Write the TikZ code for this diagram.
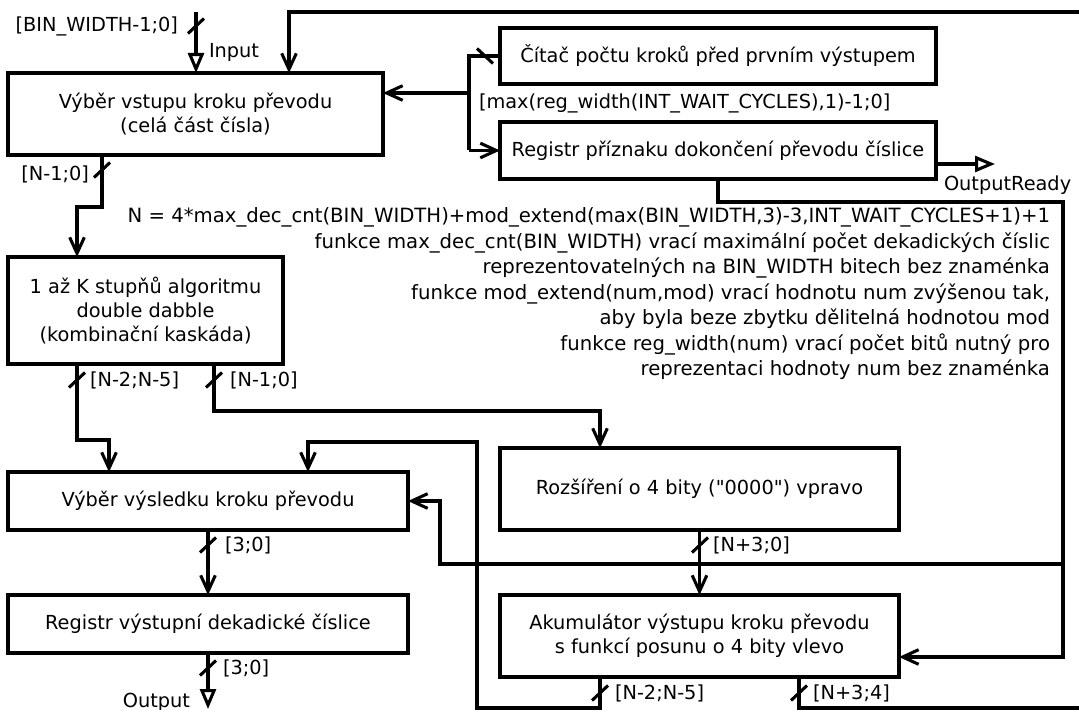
\documentclass[tikz,border=0pt]{standalone}
\usepackage{fontspec}
\setmainfont{DejaVu Sans}[Ligatures=TeXOff]
\usetikzlibrary{arrows.meta}
\begin{document}
\begin{tikzpicture}[x=0.75pt,y=-0.75pt,
  every node/.style={font=\fontsize{14.5pt}{18pt}\selectfont, inner sep=0pt, outer sep=0pt},
  block/.style 2 args={draw, line width=2.4pt, minimum width=#1*0.75pt,
    minimum height=#2*0.75pt, align=center},
  wire/.style={line width=2.3pt},
  arr/.style={wire, -{Straight Barb[length=12pt,width=11pt]}},
  port/.style={wire, -{Triangle[open,length=15pt,width=12pt,fill=white]}},
  pics/bus/.style={code={\draw[line width=2.3pt] (-8,7.5) -- (8,-7.5);}},
  pics/busb/.style={code={\draw[line width=2.3pt] (-8,-7.5) -- (8,7.5);}}
]
\useasboundingbox (0,0) rectangle (1079,710);

% functional blocks
\node[block={375}{82}] (A) at (195.5,114) {Výběr vstupu kroku převodu\\(celá část čísla)};
\node[block={436}{56}] (G) at (718,56) {Čítač počtu kroků před prvním výstupem};
\node[block={436}{57}] (H) at (718,150.5) {Registr příznaku dokončení převodu číslice};
\node[block={275}{107}] (B) at (145.5,310.5) {1 až K stupňů algoritmu\\double dabble\\(kombinační kaskáda)};
\node[block={400}{58}] (C) at (208,501) {Výběr výsledku kroku převodu};
\node[block={400}{58}] (E) at (208,624) {Registr výstupní dekadické číslice};
\node[block={399}{82}] (D) at (699.5,489) {Rozšíření o 4 bity ("0000") vpravo};
\node[block={399}{82}] (F) at (699.5,636) {Akumulátor výstupu kroku převodu\\s funkcí posunu o 4 bity vlevo};

% input port
\coordinate (inTop) at (196,12);
\draw[port] (inTop) -- (inTop |- A.north);
\pic at (196,26) {bus};
\node[anchor=east] (lin) at (178,26) {[BIN\_WIDTH-1;0]};
\node[anchor=west] (lInput) at (209,52) {Input};

% feedback of the accumulator upper part to the input selector
\coordinate (fF) at (799,708);
\coordinate (fbRB) at (1082,708);
\coordinate (fbR) at (1082,12);
\coordinate (fbA) at (289,12);
\draw[arr] (F.south -| fF) -- (fF) -- (fbRB) -- (fbR) -- (fbA) -- (fbA |- A.north);
\pic at (799,693) {bus};
\node[anchor=west] (lf2) at (813,693) {[N+3;4]};

% step counter and completion flag
\coordinate (jt) at (469,56);
\coordinate (jm) at (469,93);
\coordinate (jb) at (469,150.5);
\draw[wire] (G.west) -- (jt) -- (jb);
\draw[arr] (jb) -- (jb -| H.west);
\draw[arr] (jm) -- (jm -| A.east);
\pic at (485,56) {busb};
\node[anchor=west] (lcnt) at (479,103) {[max(reg\_width(INT\_WAIT\_CYCLES),1)-1;0]};

\coordinate (ordy) at (995,164);
\draw[port] (ordy -| H.east) -- (ordy);
\node[anchor=west] (lready) at (944,185) {OutputReady};

\coordinate (h1) at (718,202);
\coordinate (h2) at (1063,202);
\coordinate (h3) at (1063,657);
\coordinate (hj) at (1063,564);
\coordinate (c1) at (440,564);
\coordinate (c2) at (440,501);
\draw[arr] (H.south) -- (h1) -- (h2) -- (h3) -- (h3 -| F.east);
\draw[arr] (hj) -- (c1) -- (c2) -- (c2 -| C.east);

% input selector to the double dabble stages
\coordinate (a1) at (102,207);
\coordinate (a2) at (77,207);
\draw[arr] (A.south -| a1) -- (a1) -- (a2) -- (a2 |- B.north);
\pic at (102,170) {bus};
\node[anchor=east] (la) at (89,174) {[N-1;0]};

% stage outputs
\coordinate (b1) at (77,440);
\coordinate (b2) at (109,440);
\draw[arr] (B.south -| b1) -- (b1) -- (b2) -- (b2 |- C.north);
\pic at (77,380) {bus};
\node[anchor=west] (lb1) at (90,380) {[N-2;N-5]};

\coordinate (b3) at (214,411);
\coordinate (b4) at (600,411);
\draw[arr] (B.south -| b3) -- (b3) -- (b4) -- (b4 |- D.north);
\pic at (214,380) {bus};
\node[anchor=west] (lb2) at (230,380) {[N-1;0]};

% result selection and output register
\draw[arr] (C.south) -- (E.north);
\pic at (208,545) {bus};
\node[anchor=west] (lc) at (225,545) {[3;0]};

\coordinate (out) at (208,709);
\draw[port] (E.south) -- (out);
\pic at (208,668) {bus};
\node[anchor=west] (le) at (223,668) {[3;0]};
\node[anchor=east] (lout) at (190,702) {Output};

% extension and accumulator
\draw[arr] (D.south) -- (F.north);
\pic at (700,545) {bus};
\node[anchor=west] (ld) at (713,545) {[N+3;0]};

\coordinate (f1) at (600,708);
\coordinate (f2) at (477,708);
\coordinate (f3) at (477,442);
\coordinate (f4) at (308,442);
\draw[arr] (F.south -| f1) -- (f1) -- (f2) -- (f3) -- (f4) -- (f4 |- C.north);
\pic at (600,693) {bus};
\node[anchor=west] (lf1) at (615,693) {[N-2;N-5]};

% notes
\node[anchor=north east, align=right, font=\fontsize{14.75pt}{19.1pt}\selectfont] (notes) at (1050,208)
 {N = 4*max\_dec\_cnt(BIN\_WIDTH)+mod\_extend(max(BIN\_WIDTH,3)-3,INT\_WAIT\_CYCLES+1)+1\\
  funkce max\_dec\_cnt(BIN\_WIDTH) vrací maximální počet dekadických číslic\\
  reprezentovatelných na BIN\_WIDTH bitech bez znaménka\\
  funkce mod\_extend(num,mod) vrací hodnotu num zvýšenou tak,\\
  aby byla beze zbytku dělitelná hodnotou mod\\
  funkce reg\_width(num) vrací počet bitů nutný pro\\
  reprezentaci hodnoty num bez znaménka};
\end{tikzpicture}
\end{document}
